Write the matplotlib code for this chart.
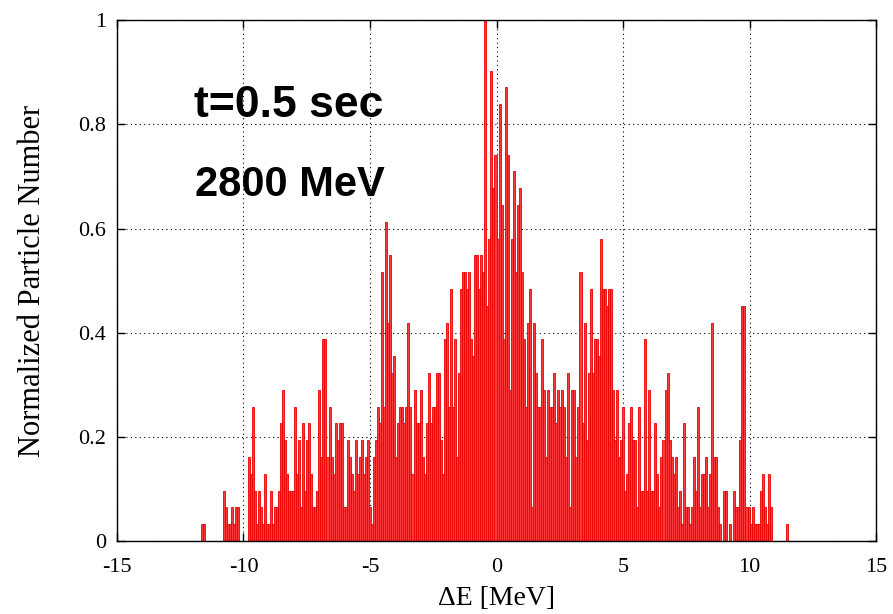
import numpy as np
import matplotlib
matplotlib.use("Agg")
import matplotlib.pyplot as plt

# histogram of energy deviation, bins of 0.08 MeV starting at -12 MeV
bin_start = -12.0
bin_width = 0.08
# counts per bin (peak bin = 31)
counts = [
    0, 0, 0, 0, 1, 1, 0, 0, 0, 0, 0, 0, 0, 0, 0, 3, 2, 1, 1, 2,
    1, 2, 2, 0, 0, 0, 0, 5, 4, 8, 3, 1, 3, 2, 1, 4, 1, 1, 3, 1,
    2, 2, 3, 7, 9, 6, 4, 3, 3, 3, 8, 4, 6, 2, 7, 3, 6, 7, 4, 2,
    2, 3, 9, 5, 12, 12, 5, 8, 5, 4, 7, 6, 7, 7, 2, 2, 6, 5, 4, 3,
    6, 4, 5, 6, 4, 5, 6, 2, 1, 5, 6, 8, 7, 16, 8, 19, 13, 17, 10, 11,
    5, 7, 8, 8, 7, 8, 13, 8, 4, 9, 7, 7, 9, 5, 4, 7, 10, 7, 8, 8,
    10, 10, 6, 4, 12, 13, 8, 15, 8, 12, 5, 10, 15, 16, 16, 15, 16, 12, 11, 17,
    17, 15, 17, 16, 31, 14, 18, 28, 21, 23, 18, 26, 20, 12, 27, 23, 9, 18, 22, 16,
    20, 21, 16, 12, 8, 13, 15, 2, 13, 10, 8, 8, 12, 9, 5, 9, 8, 8, 10, 7,
    9, 8, 9, 8, 5, 10, 2, 9, 9, 5, 8, 16, 7, 13, 6, 10, 15, 10, 12, 12,
    11, 18, 15, 15, 14, 15, 15, 9, 6, 9, 5, 6, 8, 3, 4, 7, 8, 6, 6, 2,
    8, 3, 3, 12, 3, 9, 3, 3, 7, 4, 2, 5, 6, 9, 10, 6, 5, 4, 5, 2,
    3, 1, 7, 2, 2, 1, 2, 5, 3, 8, 2, 4, 4, 5, 2, 4, 13, 5, 5, 2,
    1, 0, 3, 3, 0, 1, 0, 3, 2, 2, 6, 14, 14, 2, 2, 1, 2, 1, 1, 1,
    3, 4, 2, 1, 4, 2, 0, 0, 0, 0, 0, 0, 0, 1,
]
xticks = [-15, -10, -5, 0, 5, 10, 15]
yticks = [0, 0.2, 0.4, 0.6, 0.8, 1]
ytick_labels = ["0", "0.2", "0.4", "0.6", "0.8", "1"]

counts = np.array(counts, dtype=float)
norm = counts / counts.max()
edges = bin_start + bin_width * np.arange(len(counts))

plt.rcParams['font.family'] = ['Liberation Serif', 'DejaVu Serif']

fig = plt.figure(figsize=(8.93, 6.14), dpi=100)
ax = fig.add_axes([0.131, 0.119, 0.850, 0.848])

ax.bar(edges, norm, width=bin_width, align='edge',
       facecolor='#ff3a3a', edgecolor='#e80000', linewidth=0.6)

ax.set_xlim(-15, 15)
ax.set_ylim(0, 1)
ax.set_xticks(xticks)
ax.set_xticklabels([str(t) for t in xticks])
ax.set_yticks(yticks)
ax.set_yticklabels(ytick_labels)
ax.tick_params(direction='in', top=True, right=True, labelsize=16,
               length=6, width=1)
ax.tick_params(axis='x', pad=12)
ax.tick_params(axis='y', pad=8)
ax.set_axisbelow(True)
ax.grid(True, color='black', linestyle=(0, (1, 3)), linewidth=0.8)
for s in ax.spines.values():
    s.set_linewidth(1.0)

ax.set_xlabel('ΔE [MeV]', fontsize=20, labelpad=7)
ax.set_ylabel('Normalized Particle Number', fontsize=22, labelpad=22)

ax.text(-11.95, 0.837, 't=0.5 sec', fontsize=32, fontweight='bold',
        family=['Liberation Sans', 'DejaVu Sans'], ha='left', va='center')
ax.text(-11.9, 0.683, '2800 MeV', fontsize=30, fontweight='bold',
        family=['Liberation Sans', 'DejaVu Sans'], ha='left', va='center')

fig.savefig('out.png', dpi=100)
